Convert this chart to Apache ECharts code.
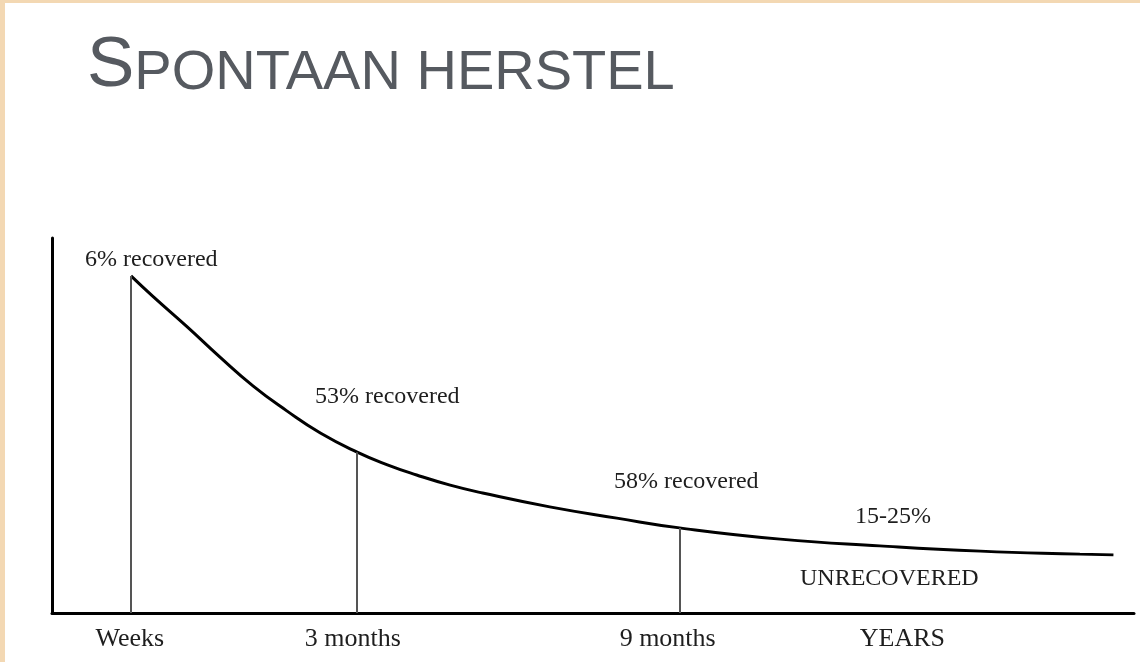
<!DOCTYPE html>
<html>
<head>
<meta charset="utf-8">
<script src="https://cdn.jsdelivr.net/npm/echarts@6/dist/echarts.min.js"></script>
<style>
body{margin:0;background:#fff}
#main{width:1140px;height:662px}
#edge{position:absolute;left:0;top:0;width:1140px;height:662px;box-sizing:border-box;border-top:3px solid #f3d8b3;border-left:5px solid #f3d8b3;pointer-events:none}
</style>
</head>
<body>
<div id="main"></div>
<div id="edge"></div>
<script>
// tijd loopt van 0 tot 100 langs de as, y = deel nog niet hersteld (0..100)
var curveX = [7.3, 9.3, 12.5, 15.5, 18.6, 21.7, 24.8, 28.2, 31.0, 33.7, 36.8, 39.8, 46.0, 52.2, 58.0, 67.3, 76.5, 85.8, 95.0, 98.1];
var curveY = [89.9, 84.5, 76.3, 68.3, 60.5, 53.9, 48.0, 42.9, 39.5, 36.8, 34.1, 32.0, 28.3, 25.3, 22.7, 19.7, 17.9, 16.5, 15.7, 15.5];

var stageNames = ['Weeks', '3 months', '9 months', 'YEARS'];
var stageX = [7.2, 27.8, 56.9, 78.6];

var markerX = [7.3, 28.2, 58.0];
var markerY = [89.9, 42.9, 22.7];

var notes = ['6% recovered', '53% recovered', '58% recovered', '15-25%', 'UNRECOVERED'];

var myChart = echarts.init(document.getElementById('main'));

var lineData = [];
for (var i = 0; i < curveX.length; i++) {
    lineData.push([curveX[i], curveY[i]]);
}
var markers = [];
for (var i = 0; i < markerX.length; i++) {
    markers.push([{coord: [markerX[i], 0]}, {coord: [markerX[i], markerY[i]]}]);
}

var noteFont = {fontFamily: 'Liberation Serif', fontSize: 24, fill: '#1e1e1e', textVerticalAlign: 'middle'};
function note(text, x, y) {
    return {type: 'text', left: x, top: y - 10, style: Object.assign({text: text}, noteFont)};
}

var option = {
    animation: false,
    title: {
        text: '{a|S}{b|PONTAAN HERSTEL}',
        left: 82,
        top: 27,
        textStyle: {
            rich: {
                a: {fontFamily: 'Liberation Sans', fontWeight: 'normal', fontSize: 71, color: '#565a60', verticalAlign: 'bottom', lineHeight: 70},
                b: {fontFamily: 'Liberation Sans', fontWeight: 'normal', fontSize: 56, color: '#565a60', verticalAlign: 'bottom', lineHeight: 70}
            }
        }
    },
    grid: {left: 52, right: 6, top: 238, bottom: 49},
    xAxis: {
        type: 'value',
        min: 0,
        max: 100,
        splitLine: {show: false},
        axisTick: {show: false},
        axisLine: {lineStyle: {color: '#000', width: 3}},
        axisLabel: {
            customValues: stageX,
            margin: 13,
            fontFamily: 'Liberation Serif',
            fontSize: 26,
            color: '#1e1e1e',
            formatter: function (v) {
                var k = stageX.indexOf(v);
                return k >= 0 ? stageNames[k] : '';
            }
        }
    },
    yAxis: {
        type: 'value',
        min: 0,
        max: 100,
        splitLine: {show: false},
        axisTick: {show: false},
        axisLabel: {show: false},
        axisLine: {show: true, lineStyle: {color: '#000', width: 3}}
    },
    series: [{
        type: 'line',
        data: lineData,
        smooth: 0.5,
        symbol: 'none',
        lineStyle: {color: '#000', width: 3},
        markLine: {
            silent: true,
            symbol: ['none', 'none'],
            label: {show: false},
            lineStyle: {color: '#555', width: 2, type: 'solid'},
            data: markers
        }
    }],
    graphic: [
        note(notes[0], 85, 258),
        note(notes[1], 315, 395),
        note(notes[2], 614, 480),
        note(notes[3], 855, 515),
        note(notes[4], 800, 577)
    ]
};

myChart.setOption(option);

window.onresize = function () {
    myChart.resize();
};
</script>
</body>
</html>
